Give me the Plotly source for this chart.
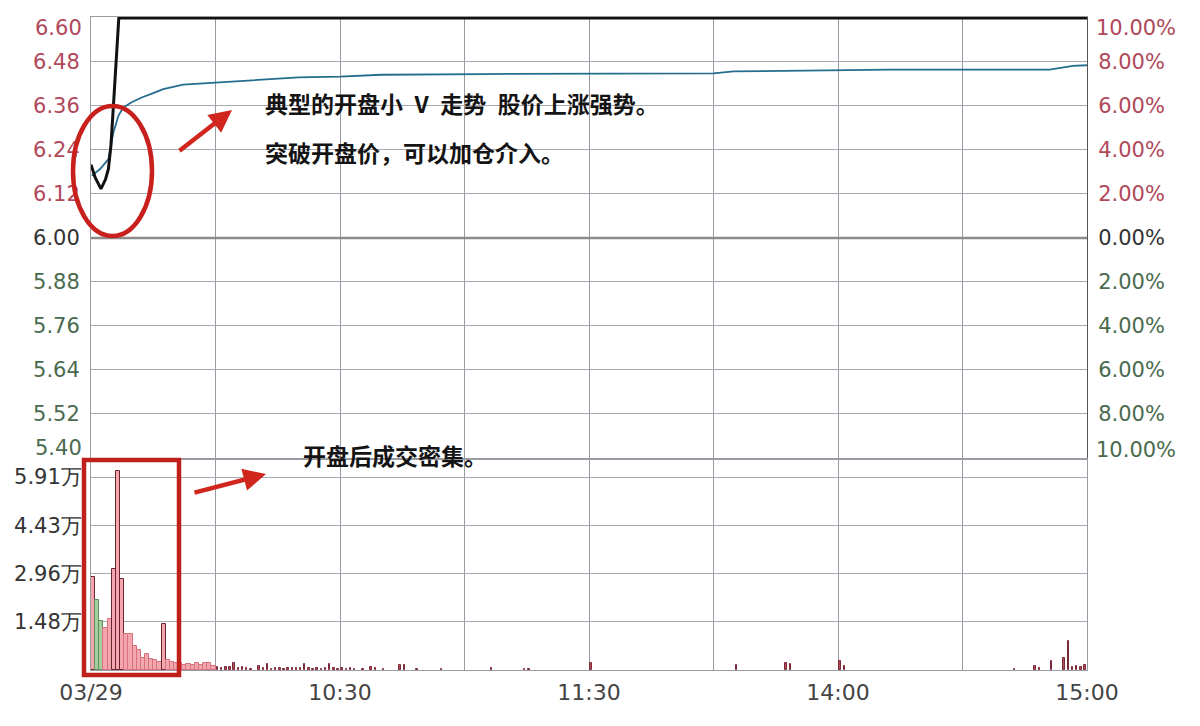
import plotly.graph_objects as go

# ---------------- data ----------------
# price line (minute index from 09:30, price)
price_minutes = [0, 1, 2.4, 3.5, 4.2, 4.8, 5.4, 5.8, 6.3, 6.7, 240]
price_values = [6.20, 6.165, 6.134, 6.16, 6.188, 6.252, 6.36, 6.44, 6.54, 6.60, 6.60]

# average price line
avg_minutes = [0.2, 2.2, 4.2, 5.4, 6.6, 7.8, 9.8, 12.2, 15, 17.4, 22.2, 30.3, 38.3,
               50, 60, 70, 94, 122, 150, 154.8, 192.5, 231, 236.6, 240]
avg_values = [6.17, 6.188, 6.215, 6.288, 6.333, 6.356, 6.37, 6.383, 6.395, 6.406, 6.418,
              6.424, 6.43, 6.438, 6.44, 6.445, 6.447, 6.448, 6.449, 6.454, 6.459, 6.459,
              6.469, 6.471]

# volume bars (minute index, volume in 万)
vol_minutes = [0, 1, 2, 3, 4, 5, 6, 7, 8, 9, 10, 11, 12, 13, 14, 15, 16, 17, 18, 19, 20, 21,
               22, 23, 24, 25, 26, 27, 28, 29, 30, 31, 32, 33, 34, 35, 36, 37, 38, 40, 41,
               42, 43, 44, 45, 46, 47, 48, 49, 50, 51, 52, 53, 54, 55, 56, 57, 58, 59, 60,
               61, 62, 63, 65, 67, 68, 70, 74, 75, 78, 84, 96, 104, 105, 120, 155, 167,
               168, 180, 181, 222, 227, 228, 231, 234, 235, 236, 237, 238, 239]
vol_values = [2.85, 2.15, 1.5, 1.3, 1.55, 3.1, 6.1, 2.8, 1.1, 1.1, 0.75, 0.6, 0.36, 0.5,
              0.33, 0.3, 0.25, 1.4, 0.3, 0.25, 0.22, 0.2,
              0.15, 0.18, 0.15, 0.2, 0.15, 0.22, 0.2, 0.12, 0.08, 0.06, 0.1, 0.08, 0.22,
              0.05, 0.08, 0.05, 0.04, 0.12, 0.05, 0.18, 0.04, 0.06, 0.05, 0.04, 0.05,
              0.06, 0.05, 0.07, 0.18, 0.06, 0.04, 0.05, 0.04, 0.06, 0.18, 0.05, 0.04,
              0.06, 0.03, 0.05, 0.04, 0.03, 0.08, 0.06, 0.03, 0.16, 0.15, 0.03, 0.04,
              0.05, 0.03, 0.03, 0.22, 0.15, 0.2, 0.18, 0.28, 0.12, 0.04, 0.13, 0.05,
              0.28, 0.38, 0.89, 0.1, 0.13, 0.1, 0.15]
falling_minutes = [1, 2]
spike_minutes = [0, 5, 6, 7, 17]

price_ticks = [6.60, 6.48, 6.36, 6.24, 6.12, 6.00, 5.88, 5.76, 5.64, 5.52, 5.40]
pct_ticks = [10, 8, 6, 4, 2, 0, -2, -4, -6, -8, -10]
vol_ticks = [1.48, 2.96, 4.43, 5.91]
time_ticks = [0, 30, 60, 90, 120, 150, 180, 210, 240]
time_labels = ["03/29", "", "10:30", "", "11:30", "", "14:00", "", "15:00"]

prev_close = 6.00

# ---------------- styling ----------------
RED_TXT = "#b0485a"
GRN_TXT = "#4a6a4e"
DARK_TXT = "#333333"
GRID = "#a9a9b1"
VGRID = "#9a9aa2"
FONT = "DejaVu Sans"
FS = 21


def colored(txt, value, ref):
    if value > ref + 1e-9:
        c = RED_TXT
    elif value < ref - 1e-9:
        c = GRN_TXT
    else:
        c = DARK_TXT
    return f'<span style="color:{c}">{txt}</span>'


price_text = [colored(f"{v:.2f}", v, prev_close) for v in price_ticks]
pct_text = [colored(f"{abs(v):.2f}%", v, 0) for v in pct_ticks]
# extreme labels are drawn as annotations (shifted inside like the reference)
price_text[0] = ""
price_text[-1] = ""
pct_text[0] = ""
pct_text[-1] = ""

vol_colors = []
vol_lines = []
vol_widths = []
for m in vol_minutes:
    if m in falling_minutes:
        vol_colors.append("#a6cf9f")
        vol_lines.append("#5f8f5a")
        vol_widths.append(1.0)
    elif m <= 29:
        vol_colors.append("#f4a6ae")
        vol_lines.append("#6a2430" if m in spike_minutes else "#d9707e")
        vol_widths.append(1.0)
    else:
        vol_colors.append("#b84a5a")
        vol_lines.append("#7a2a36")
        vol_widths.append(0.35)

PTOP = 6.6025
P_LO = 5.40
pct_top = (PTOP - prev_close) / prev_close * 100
pct_lo = (P_LO - prev_close) / prev_close * 100

fig = go.Figure()

# previous close (0%) line
fig.add_trace(go.Scatter(x=[0, 240], y=[0, 0], xaxis="x", yaxis="y3", mode="lines",
                         line=dict(color="#8c8c8c", width=2.5), hoverinfo="skip",
                         showlegend=False))
# average price
fig.add_trace(go.Scatter(x=avg_minutes, y=avg_values, xaxis="x", yaxis="y", mode="lines",
                         line=dict(color="#256d8e", width=1.8), showlegend=False))
# price
fig.add_trace(go.Scatter(x=price_minutes, y=price_values, xaxis="x", yaxis="y", mode="lines",
                         line=dict(color="#111111", width=3), showlegend=False))
# volume
fig.add_trace(go.Bar(x=[m + 0.5 for m in vol_minutes], y=vol_values, xaxis="x2", yaxis="y2",
                     width=vol_widths, marker=dict(color=vol_colors,
                                                   line=dict(color=vol_lines, width=1)),
                     showlegend=False))

# page offset (browser body margin)
OFF = 8
# target plot box in screenshot pixels
PL, PR, PT, PB = 91, 1087, 17, 670
W, H = 1200 - OFF, 726 - OFF
L = PL - OFF
R = OFF + W - PR
T = PT - OFF
B = OFF + H - PB
plot_w = PR - PL
plot_h = PB - PT
price_bottom = (PB - 458) / plot_h
vol_top = (PB - 460) / plot_h
vol_max = 5.91 * (PB - 460) / (PB - 477)

axis_font = dict(family=FONT, size=FS, color=DARK_TXT)

fig.update_layout(
    width=W, height=H,
    margin=dict(l=L, r=R, t=T, b=B, autoexpand=False),
    paper_bgcolor="#ffffff", plot_bgcolor="#ffffff",
    bargap=0,
    showlegend=False,
    xaxis=dict(domain=[0, 1], range=[0, 240], anchor="y", tickvals=time_ticks[1:-1],
               showticklabels=False, showgrid=True, gridcolor=VGRID, gridwidth=1,
               zeroline=False, showline=True, mirror=True, linecolor="#9a9aa2", ticks="",
               automargin=False),
    yaxis=dict(domain=[price_bottom, 1], range=[P_LO, PTOP], anchor="x", tickvals=price_ticks,
               ticktext=price_text, tickfont=axis_font, showgrid=True, gridcolor=GRID,
               gridwidth=1, zeroline=False, showline=True, linecolor="#9a9aa2",
               ticks="outside", ticklen=6, tickcolor="rgba(0,0,0,0)", automargin=False),
    yaxis3=dict(overlaying="y", side="right", anchor="x", range=[pct_lo, pct_top],
                tickvals=pct_ticks, ticktext=pct_text, tickfont=axis_font, showgrid=False,
                zeroline=False, showline=True, linecolor="#555555",
                ticks="outside", ticklen=6, tickcolor="rgba(0,0,0,0)", automargin=False),
    xaxis2=dict(domain=[0, 1], range=[0, 240], anchor="y2", tickvals=time_ticks,
                ticktext=time_labels, tickfont=dict(family=FONT, size=22, color="#444444"),
                showgrid=True, gridcolor=VGRID, gridwidth=1, zeroline=False, showline=True,
                mirror=True, linecolor="#9a9aa2", ticks="outside", ticklen=3,
                tickcolor="rgba(0,0,0,0)", automargin=False),
    yaxis2=dict(domain=[0, vol_top], range=[0, vol_max], anchor="x2", tickvals=vol_ticks,
                ticktext=[f"{v:.2f}万" for v in vol_ticks],
                tickfont=dict(family=FONT, size=FS, color=DARK_TXT), showgrid=True,
                gridcolor=GRID, gridwidth=1, zeroline=False, showline=True, mirror=True,
                linecolor="#9a9aa2", ticks="outside", ticklen=4, tickcolor="rgba(0,0,0,0)",
                automargin=False),
)


def px_x(p):
    return (p - PL) / plot_w


def px_y(p):
    return (PB - p) / plot_h


ANN_RED = "#d0261e"
CJK = dict(family="Noto Sans CJK SC", size=23, color="#141414")
EN = "\u2002"
annotations = [
    # extreme axis labels
    dict(xref="paper", yref="paper", x=0, y=px_y(28), xanchor="right", yanchor="middle",
         xshift=-7, showarrow=False,
         text=colored(f"{price_ticks[0]:.2f}", price_ticks[0], prev_close), font=axis_font),
    dict(xref="paper", yref="paper", x=0, y=px_y(448), xanchor="right", yanchor="middle",
         xshift=-7, showarrow=False,
         text=colored(f"{price_ticks[-1]:.2f}", price_ticks[-1], prev_close), font=axis_font),
    dict(xref="paper", yref="paper", x=1, y=px_y(28), xanchor="left", yanchor="middle",
         xshift=7, showarrow=False,
         text=colored(f"{abs(pct_ticks[0]):.2f}%", pct_ticks[0], 0), font=axis_font),
    dict(xref="paper", yref="paper", x=1, y=px_y(450), xanchor="left", yanchor="middle",
         xshift=7, showarrow=False,
         text=colored(f"{abs(pct_ticks[-1]):.2f}%", pct_ticks[-1], 0), font=axis_font),
    # commentary texts
    dict(xref="paper", yref="paper", x=px_x(263), y=px_y(103), xanchor="left",
         yanchor="middle", showarrow=False,
         text=f"<b>典型的开盘小{EN}V{EN}走势{EN}股价上涨强势。</b>", font=CJK),
    dict(xref="paper", yref="paper", x=px_x(263), y=px_y(152), xanchor="left",
         yanchor="middle", showarrow=False,
         text="<b>突破开盘价，可以加仓介入。</b>", font=CJK),
    dict(xref="paper", yref="paper", x=px_x(301), y=px_y(455), xanchor="left",
         yanchor="middle", showarrow=False,
         text="<b>开盘后成交密集。</b>", font=CJK),
    # arrows
    dict(xref="paper", yref="paper", x=px_x(232), y=px_y(110), ax=-54, ay=42,
         axref="pixel", ayref="pixel", showarrow=True, arrowhead=2, arrowsize=1.0,
         arrowwidth=4.5, arrowcolor=ANN_RED, text=""),
    dict(xref="paper", yref="paper", x=px_x(266), y=px_y(474), ax=-73, ay=19,
         axref="pixel", ayref="pixel", showarrow=True, arrowhead=2, arrowsize=1.0,
         arrowwidth=4.5, arrowcolor=ANN_RED, text=""),
]
fig.update_layout(annotations=annotations)

fig.update_layout(shapes=[
    dict(type="circle", xref="paper", yref="paper", x0=px_x(73), x1=px_x(152),
         y0=px_y(236), y1=px_y(106), line=dict(color="#c8201c", width=4.5), layer="above"),
    dict(type="rect", xref="paper", yref="paper", x0=px_x(84), x1=px_x(179),
         y0=px_y(675), y1=px_y(460), line=dict(color="#c0201c", width=4.5), layer="above"),
])

fig.write_html("out.html")
